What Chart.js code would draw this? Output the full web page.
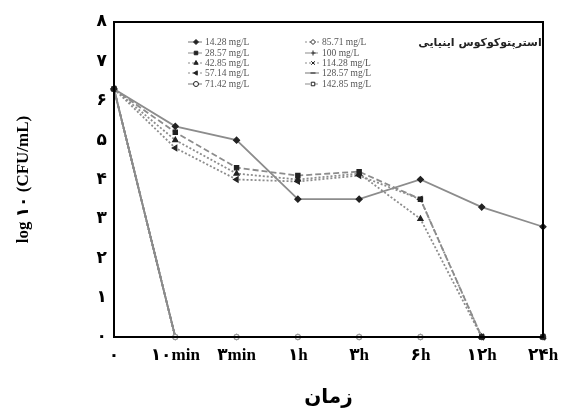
<!DOCTYPE html>
<html><head><meta charset="utf-8">
<script src="https://cdn.jsdelivr.net/npm/chart.js@4/dist/chart.umd.min.js"></script>
<style>html,body{margin:0;padding:0;background:#fff}#w{width:562px;height:416px}</style>
</head><body><div id="w"><canvas id="c" width="562" height="416"></canvas></div>
<script>
const timeLabels = ['۰','۱۰min','۳min','۱h','۳h','۶h','۱۲h','۲۴h'];
const yTickLabels = ['۰','۱','۲','۳','۴','۵','۶','۷','۸'];
const seriesNames = ['14.28 mg/L','28.57 mg/L','42.85 mg/L','57.14 mg/L','71.42 mg/L','85.71 mg/L','100 mg/L','114.28 mg/L','128.57 mg/L','142.85 mg/L'];
const s14_28  = [6.3, 5.35, 5.0, 3.5, 3.5, 4.0, 3.3, 2.8];
const s28_57  = [6.3, 5.2, 4.3, 4.1, 4.2, 3.5, 0, 0];
const s42_85  = [6.3, 5.0, 4.15, 4.0, 4.15, 3.0, 0, 0];
const s57_14  = [6.3, 4.8, 4.0, 3.95, 4.1, 3.5, 0, 0];
const s71_42  = [6.3, 0, 0, 0, 0, 0, 0, 0];
const s85_71  = [6.3, 0, 0, 0, 0, 0, 0, 0];
const s100    = [6.3, 0, 0, 0, 0, 0, 0, 0];
const s114_28 = [6.3, 0, 0, 0, 0, 0, 0, 0];
const s128_57 = [6.3, 0, 0, 0, 0, 0, 0, 0];
const s142_85 = [6.3, 0, 0, 0, 0, 0, 0, 0];
const legendTitle = 'استرپتوکوکوس اینیایی';
const xTitle = 'زمان';
const yTitle = 'log ۱۰ (CFU/mL)';

const values = [s14_28,s28_57,s42_85,s57_14,s71_42,s85_71,s100,s114_28,s128_57,s142_85];
const styles = [
  {ps:'rectRot', dash:[], fill:'#222', r:3, rot:0},
  {ps:'rect', dash:[6,3], fill:'#222', r:3, rot:0},
  {ps:'triangle', dash:[2,2], fill:'#222', r:3, rot:0},
  {ps:'triangle', dash:[2,2], fill:'#222', r:3, rot:270},
  {ps:'circle', dash:[], fill:'#fff', r:2.5, rot:0},
  {ps:'rectRot', dash:[2,2], fill:'#fff', r:3, rot:0},
  {ps:'cross', dash:[5,3], fill:'#fff', r:3, rot:0},
  {ps:'crossRot', dash:[2,2], fill:'#fff', r:3, rot:0},
  {ps:'line', dash:[], fill:'#fff', r:3, rot:0},
  {ps:'rect', dash:[5,3], fill:'#fff', r:2.5, rot:0}
];
const datasets = values.map((v,i)=>({
  label: seriesNames[i], data: v,
  borderColor: '#8c8c8c', borderWidth: 1.8, borderDash: styles[i].dash,
  pointStyle: styles[i].ps, pointRadius: styles[i].r, pointRotation: styles[i].rot,
  pointBackgroundColor: styles[i].fill, pointBorderColor: i<4 ? '#222' : '#999',
  pointBorderWidth: 1.2, tension: 0, clip: false
}));

const framePlugin = {
  id: 'frame',
  afterDraw(chart) {
    const {ctx, chartArea: a} = chart;
    ctx.save();
    ctx.strokeStyle = '#000'; ctx.lineWidth = 2;
    ctx.strokeRect(a.left, a.top, a.right - a.left, a.bottom - a.top);
    const rowsY = [42, 53, 63, 73, 84];
    ctx.font = '9.5px "Liberation Serif", serif';
    ctx.textBaseline = 'middle';
    chart.data.datasets.forEach((ds, i) => {
      const col = i < 5 ? 0 : 1;
      const x0 = col === 0 ? 188 : 305;
      const y = rowsY[i % 5];
      ctx.save();
      ctx.strokeStyle = ds.borderColor; ctx.lineWidth = 1.2;
      ctx.setLineDash(ds.borderDash);
      ctx.beginPath(); ctx.moveTo(x0, y); ctx.lineTo(x0 + 14, y); ctx.stroke();
      ctx.setLineDash([]);
      ctx.fillStyle = ds.pointBackgroundColor; ctx.strokeStyle = '#222'; ctx.lineWidth = 1;
      Chart.helpers.drawPoint(ctx, {pointStyle: ds.pointStyle, radius: 2.5, rotation: ds.pointRotation, borderWidth: 1}, x0 + 8, y);
      ctx.restore();
      ctx.fillStyle = '#555'; ctx.textAlign = 'left';
      ctx.fillText(ds.label, x0 + 17, y);
    });
    ctx.font = 'bold 11px "DejaVu Sans", sans-serif';
    ctx.fillStyle = '#222'; ctx.textAlign = 'center'; ctx.direction = 'rtl';
    ctx.fillText(legendTitle, 480, 43);
    ctx.restore();
  }
};

new Chart(document.getElementById('c'), {
  type: 'line',
  data: { labels: timeLabels, datasets },
  options: {
    responsive: false, animation: false, devicePixelRatio: 1,
    layout: { padding: { top: 22, right: 19, left: 0, bottom: 0 } },
    plugins: { legend: { display: false }, tooltip: { enabled: false } },
    scales: {
      x: {
        type: 'category', offset: false,
        grid: { display: false, drawTicks: false }, border: { display: false },
        ticks: { autoSkip: false, maxRotation: 0, padding: 8, color: '#000',
                 font: { family: '"Liberation Serif", "DejaVu Sans", serif', size: 17, weight: 'bold' } },
        title: { display: true, text: xTitle, color: '#000', padding: { top: 4, bottom: 6 },
                 font: { family: '"DejaVu Sans", sans-serif', size: 20, weight: 'bold' } },
        afterFit(s) { s.height = 79; s.paddingLeft = 0; s.paddingRight = 0; }
      },
      y: {
        min: 0, max: 8,
        grid: { display: false, drawTicks: false }, border: { display: false },
        ticks: { stepSize: 1, padding: 7, color: '#000', callback: (v) => yTickLabels[v],
                 font: { family: '"DejaVu Sans", serif', size: 17, weight: 'bold' } },
        title: { display: true, text: yTitle, color: '#000', padding: { top: 13, bottom: 4 },
                 font: { family: '"Liberation Serif", "DejaVu Sans", serif', size: 17, weight: 'bold' } },
        afterFit(s) { s.width = 114; s.paddingTop = 0; s.paddingBottom = 0; }
      }
    }
  },
  plugins: [framePlugin]
});
</script>
</body></html>
